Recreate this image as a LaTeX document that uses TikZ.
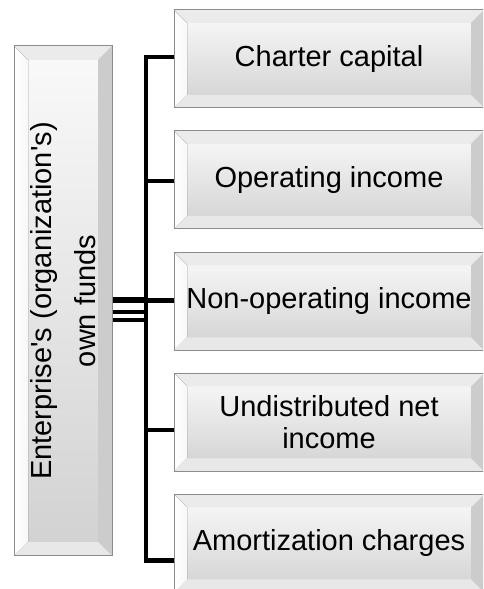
\documentclass[tikz,border=0pt]{standalone}
\usepackage{fontspec}
\setmainfont{Liberation Sans}
\tikzset{
  bw/.store in=\bevw, bw=13pt,
  bevbox/.style={
    draw=black!45, line width=1pt, inner sep=0pt,
    top color=black!2, bottom color=black!18,
    font=\fontsize{29}{32}\selectfont, align=center,
    path picture={
      \coordinate (ppNW) at (path picture bounding box.north west);
      \coordinate (ppNE) at (path picture bounding box.north east);
      \coordinate (ppSW) at (path picture bounding box.south west);
      \coordinate (ppSE) at (path picture bounding box.south east);
      \coordinate (iNW) at ([shift={(\bevw,-\bevw)}]path picture bounding box.north west);
      \coordinate (iNE) at ([shift={(-\bevw,-\bevw)}]path picture bounding box.north east);
      \coordinate (iSW) at ([shift={(\bevw,\bevw)}]path picture bounding box.south west);
      \coordinate (iSE) at ([shift={(-\bevw,\bevw)}]path picture bounding box.south east);
      \fill[black!8] (ppNW) -- (ppNE) -- (iNE) -- (iNW) -- cycle;
      \fill[left color=white, right color=black!3] (ppNW) -- (iNW) -- (iSW) -- (ppSW) -- cycle;
      \fill[black!20] (ppNE) -- (ppSE) -- (iSE) -- (iNE) -- cycle;
      \fill[black!9] (ppSW) -- (iSW) -- (iSE) -- (ppSE) -- cycle;
    }},
  mainline/.style={draw=black, line width=4.5pt, line join=miter, line cap=butt},
  thinline/.style={draw=black, line width=3.5pt}
}
\begin{document}
\begin{tikzpicture}[x=1pt,y=1pt]
\useasboundingbox (0,0) rectangle (483,589);
\clip (0,0) rectangle (483,589);
\fill[white] (0,0) rectangle (483,589);

% left box
\node[bevbox, bw=14pt, minimum width=98pt, minimum height=510pt] (own) at (63,288) {};
\node[rotate=90, align=center, font=\fontsize{29}{44}\selectfont] (ownt) at (own.center) {Enterprise\textquotesingle s (organization\textquotesingle s)\\own funds};

% right boxes
\node[bevbox, minimum width=310pt, minimum height=98pt] (b1) at (329,530) {Charter capital};
\node[bevbox, minimum width=310pt, minimum height=98pt] (b2) at (329,409) {Operating income};
\node[bevbox, minimum width=310pt, minimum height=98pt] (b3) at (329,287.5) {Non-operating income};
\node[bevbox, minimum width=310pt, minimum height=98pt] (b4) at (329,166.5) {Undistributed net\\income};
\node[bevbox, minimum width=310pt, minimum height=98pt] (b5) at (329,45.5) {Amortization charges};

% bus
\coordinate (t1) at (146,532);
\coordinate (t2) at (146,408);
\coordinate (t3) at (146,288.5);
\coordinate (t4) at (146,159);
\coordinate (t5) at (146,28.5);
\draw[mainline] (t1 -| b1.west) -- (t1) -- (t5) -- (t5 -| b5.west);
\draw[mainline] (t2) -- (t2 -| b2.west);
\draw[mainline] (t3) -- (t3 -| b3.west);
\draw[mainline] (t4) -- (t4 -| b4.west);

% triple link from left box
\draw[draw=black, line width=6pt] (own.east |- t3) -- (t3);
\coordinate (u2) at (146,277);
\coordinate (u3) at (146,269);
\draw[thinline] (own.east |- u2) -- (u2);
\draw[thinline] (own.east |- u3) -- (u3);
\end{tikzpicture}
\end{document}
